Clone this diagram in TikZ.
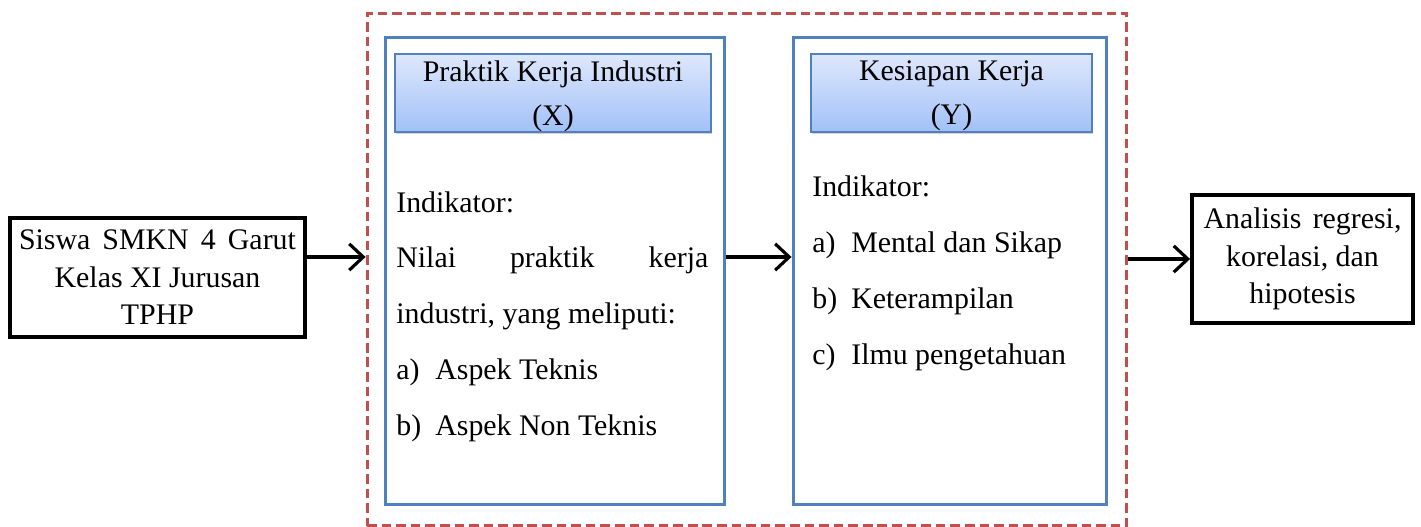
\documentclass[tikz,border=0pt]{standalone}
\usepackage{fontspec}
\setmainfont{Liberation Serif}
\usetikzlibrary{positioning,shadows,arrows.meta}
\definecolor{frameRed}{HTML}{C0504D}
\definecolor{boxBlue}{HTML}{4F81BD}
\definecolor{headTop}{HTML}{DEE8FB}
\definecolor{headBot}{HTML}{A2C1F8}

\begin{document}
\begin{tikzpicture}[x=0.02cm, y=-0.02cm, font=\fontsize{17}{21.3}\selectfont, flow/.style={-{Straight Barb[length=8pt,width=15pt]}, line width=1.8pt}, blackbox/.style={draw, line width=2.2pt, inner sep=0pt, align=center}, bigbox/.style={draw=boxBlue, line width=1.7pt, inner sep=0pt}, headbox/.style={draw=boxBlue, line width=0.8pt, top color=headTop, bottom color=headBot, drop shadow={opacity=0.35, shadow xshift=0.8pt, shadow yshift=-1.4pt}, align=center, inner sep=0pt, text depth=0pt, font=\fontsize{17}{25}\selectfont}, indik/.style={anchor=base west, inner sep=0pt, align=left, font=\fontsize{17}{31.7}\selectfont}]
		\useasboundingbox (0,0) rectangle (1421,527);
		\coordinate (mid) at (0,257);
		\node[draw=frameRed, dashed, dash pattern=on 5.5pt off 2.8pt, line width=1.7pt, minimum width=15.2cm, minimum height=10.26cm] (frame) at (747,269.5) {};
		\node[blackbox, minimum width=5.9cm, minimum height=2.38cm] (siswa) at (157.5,277.5) {\makebox[5.54cm][s]{Siswa SMKN 4 Garut}\\Kelas XI Jurusan\\TPHP};
		\node[bigbox, minimum width=6.8cm, minimum height=9.36cm] (prakerin) at (555,271) {};
		\node[bigbox, minimum width=6.28cm, minimum height=9.36cm] (kesiapan) at (950,271) {};
		\node[headbox, minimum width=6.32cm, minimum height=1.56cm] (headX) at (553,93) {Praktik Kerja Industri\\(X)};
		\node[headbox, minimum width=5.62cm, minimum height=1.56cm] (headY) at (951.5,93) {Kesiapan Kerja\\(Y)};
		\node[indik] (indX) at (396,435) {Indikator:\\\makebox[6.24cm][s]{Nilai praktik kerja}\\industri, yang meliputi:\\\makebox[0.78cm][l]{a)}Aspek Teknis\\\makebox[0.78cm][l]{b)}Aspek Non Teknis};
		\node[indik] (indY) at (812,364) {Indikator:\\\makebox[0.78cm][l]{a)}Mental dan Sikap\\\makebox[0.78cm][l]{b)}Keterampilan\\\makebox[0.78cm][l]{c)}Ilmu pengetahuan};
		\node[blackbox, minimum width=4.42cm, minimum height=2.56cm] (hasil) at (1302.5,259) {\makebox[3.96cm][s]{Analisis regresi,}\\korelasi, dan\\hipotesis};
		\draw[flow] (siswa.east |- mid) -- (frame.west |- mid);
		\draw[flow] (prakerin.east |- mid) -- (kesiapan.west |- mid);
		\draw[flow] (frame.east |- hasil.west) -- (hasil.west);
	\end{tikzpicture}
\end{document}
